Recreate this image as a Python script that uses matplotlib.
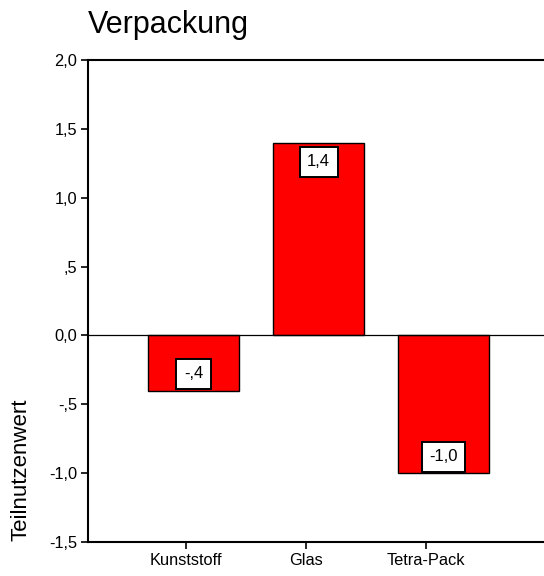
import matplotlib
matplotlib.use("Agg")
import matplotlib.pyplot as plt
from matplotlib.ticker import FuncFormatter

plt.rcParams['font.family'] = ['Liberation Sans', 'DejaVu Sans']

# data
categories = ["Kunststoff", "Glas", "Tetra-Pack"]
values = [-0.4, 1.4, -1.0]
value_labels = ["-,4", "1,4", "-1,0"]
yticks = [-1.5, -1.0, -0.5, 0.0, 0.5, 1.0, 1.5, 2.0]


def de_fmt(v, pos=None):
    # SPSS style german decimal, no leading zero
    s = f"{abs(v):.1f}".replace(".", ",")
    if s.startswith("0,") and abs(v) > 1e-9:
        s = s[1:]
    if v < -1e-9:
        s = "-" + s
    return s


fig = plt.figure(figsize=(5.44, 5.76), dpi=100)
ax = fig.add_axes([88/544, 1 - 542/576, 1 - 88/544, (542 - 60)/576])

x = list(range(len(categories)))
ax.bar(x, values, width=0.73, color="#ff0000", edgecolor="black", linewidth=1.0, zorder=2)
ax.axhline(0, color="black", linewidth=0.9, zorder=3)

for xi, v, lab in zip(x, values, value_labels):
    off = -0.14 if v > 0 else 0.12
    ax.text(xi, v + off, lab, ha="center", va="center", fontsize=12, zorder=4,
            bbox=dict(boxstyle="square,pad=0.45", facecolor="white", edgecolor="black", linewidth=1.4))

ax.set_ylim(-1.5, 2.0)
ax.set_xlim(-0.844, 2.804)
ax.set_yticks(yticks)
ax.yaxis.set_major_formatter(FuncFormatter(de_fmt))
# category ticks sit slightly left of the bars, as in the original
ax.set_xticks([xi * 0.96 - 0.06 for xi in x])
ax.set_xticklabels(categories)

ax.spines["right"].set_visible(False)
for s in ["left", "bottom", "top"]:
    ax.spines[s].set_linewidth(1.5)
ax.tick_params(axis="both", direction="out", length=5, width=1.2, labelsize=11.8, pad=3)

fig.text(88/544, 1 - 33/576, "Verpackung", fontsize=22, ha="left", va="baseline")
fig.text(21/544, 1 - 541/576, "Teilnutzenwert", fontsize=16, rotation=90, ha="center", va="bottom")

fig.savefig("out.png", dpi=100)
